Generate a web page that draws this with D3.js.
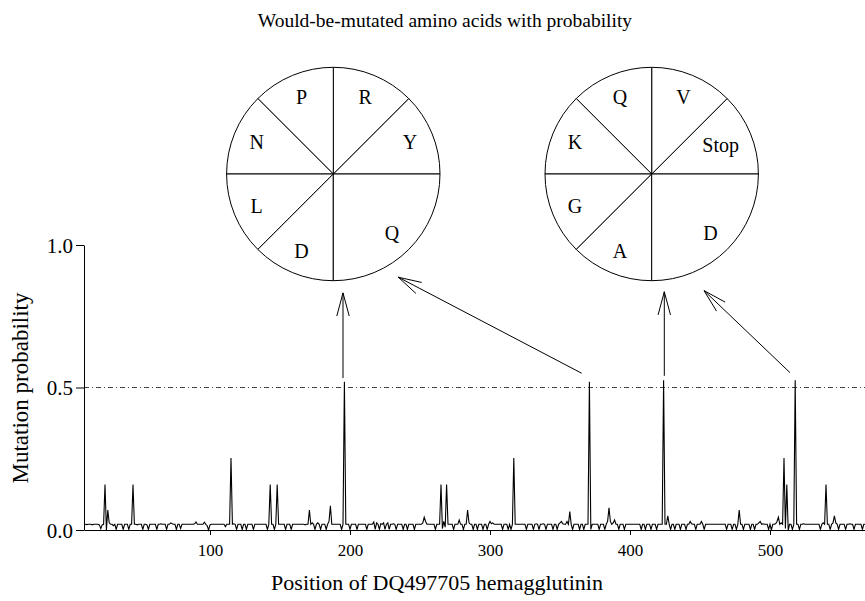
<!DOCTYPE html>
<html><head><meta charset="utf-8">
<script src="https://cdn.jsdelivr.net/npm/d3@7"></script>
<style>
body{margin:0;background:#fff}
svg{display:block}
text{font-family:"Liberation Serif","Times New Roman",serif;fill:#000}
</style>
</head><body>
<svg id="chart" width="865" height="601"></svg>
<script>
// ---------------- data ----------------
const firstPosition = 10;
const probability = [
/*10*/ .02,.02,.019,.02,.02,.02,.018,.02,.02,.02,
/*20*/ .02,.018,.005,.018,.02,.16,0,.07,.025,.02,
/*30*/ .02,.015,.02,.002,.02,.02,.02,.02,.002,.02,
/*40*/ .02,.02,.002,.02,.02,.16,.02,.02,.018,.02,
/*50*/ .02,.02,.002,.02,.02,.018,.002,.02,.02,.02,
/*60*/ .02,.02,.002,.02,.02,.022,.02,.02,.02,.002,
/*70*/ .02,.02,.025,.022,.02,.02,.002,.02,.02,.005,
/*80*/ .02,.02,.02,.02,.02,.02,.02,.02,.02,.022,
/*90*/ .028,.02,.02,.02,.02,.02,.027,.02,.015,0,
/*100*/ .018,.02,.02,.02,.02,.02,.02,.02,.02,.02,
/*110*/ .02,.012,.02,.02,.02,.253,.02,.022,.02,.002,
/*120*/ .02,.02,.02,.002,.02,.02,.002,.02,.02,.02,
/*130*/ .02,.002,.02,.02,.02,.02,.02,.02,.02,.02,
/*140*/ .02,.002,.02,.16,.02,.02,.002,.02,.16,.02,
/*150*/ .02,.02,.02,.02,.002,.02,.02,.02,.002,.02,
/*160*/ .02,.02,.02,.02,.02,.02,.02,.02,.018,.02,
/*170*/ .02,.07,.02,.025,.02,.002,.02,.025,.02,.002,
/*180*/ .02,.02,.02,.002,.02,.03,.085,.02,.02,.02,
/*190*/ .02,.02,.02,.02,.002,.02,.52,.02,.02,.02,
/*200*/ .002,.02,.02,.02,.02,.002,.02,.02,.02,.02,
/*210*/ .02,.02,.002,.02,.02,.02,.02,.028,.002,.025,
/*220*/ .02,.002,.022,.02,.025,.002,.02,.025,.002,.02,
/*230*/ .02,.022,.02,.002,.02,.02,.02,.02,.002,.02,
/*240*/ .02,.002,.02,.02,.02,.02,.002,.02,.02,.02,
/*250*/ .02,.02,.025,.045,.03,.02,.02,.02,.02,.02,
/*260*/ .02,.002,.02,.02,.02,.16,.005,.03,.01,.16,
/*270*/ .02,.02,.02,.02,.002,.02,.02,.02,.035,.02,
/*280*/ .02,.002,.02,.02,.07,.025,.02,.02,.002,.02,
/*290*/ .02,.002,.02,.02,.02,.002,.02,.02,.002,.02,
/*300*/ .03,.022,.025,.02,.02,.02,.02,.02,.02,.002,
/*310*/ .02,.02,.02,.002,.02,.002,.02,.253,.02,.02,
/*320*/ .02,.02,.02,.02,.02,.02,.002,.02,.02,.02,
/*330*/ .02,.002,.02,.022,.02,.002,.02,.02,.022,.02,
/*340*/ .002,.02,.02,.02,.02,.002,.02,.02,.002,.02,
/*350*/ .025,.03,.022,.02,.02,.03,.02,.065,.02,.002,
/*360*/ .02,.02,.02,.02,.002,.02,.02,.002,.02,.02,
/*370*/ .02,.52,.002,.02,.02,.02,.02,.02,.002,.02,
/*380*/ .02,.02,.002,.02,.03,.078,.03,.02,.025,.035,
/*390*/ .02,.02,.002,.02,.02,.02,.002,.02,.02,.02,
/*400*/ .02,.02,.02,.02,.02,.02,.02,.02,.002,.02,
/*410*/ .02,.002,.02,.02,.02,.002,.02,.02,.02,.002,
/*420*/ .02,.02,.02,.02,.525,.02,.02,.05,.02,.002,
/*430*/ .02,.02,.002,.02,.02,.02,.002,.02,.02,.02,
/*440*/ .002,.02,.02,.03,.022,.02,.02,.002,.02,.02,
/*450*/ .02,.03,.02,.002,.02,.02,.02,.02,.02,.02,
/*460*/ .02,.02,.02,.02,.02,.02,.02,.02,.02,.002,
/*470*/ .02,.02,.02,.002,.02,.02,.002,.02,.07,.02,
/*480*/ .02,.002,.02,.02,.02,.02,.002,.02,.02,.002,
/*490*/ .02,.02,.025,.03,.02,.022,.02,.02,.02,.002,
/*500*/ .02,0,.02,.02,.022,.03,.045,.02,.025,.02,
/*510*/ .253,.005,.16,0,.02,.02,.002,.02,.525,.02,
/*520*/ .02,.002,.02,.02,.022,.02,.02,.02,.02,.02,
/*530*/ .02,.02,.02,.02,.02,.02,.002,.02,.025,.02,
/*540*/ .16,.02,.02,.002,.02,.025,.05,.025,.02,.002,
/*550*/ .02,.02,.02,.02,.002,.02,.02,.022,.02,.02,
/*560*/ .002,.02,.02,.02,.02,.02,.002,.02,.02
];
const xTicks = [100, 200, 300, 400, 500];
const yTicks = [0, 0.5, 1];
const threshold = 0.5;
const pie1Labels = ["Y", "R", "P", "N", "L", "D", "Q"];
const pie1Values = [1, 1, 1, 1, 1, 1, 2];
const pie2Labels = ["Stop", "V", "Q", "K", "G", "A", "D"];
const pie2Values = [1, 1, 1, 1, 1, 1, 2];
// arrows (position, probability): from peak to pie
const arrowFrom = [[195, 0.533], [365.5, 0.55], [424.5, 0.541], [514.3, 0.552]];
const arrowTo   = [[195, 0.832], [234.5, 0.887], [424.5, 0.836], [452.9, 0.84]];

const titleText = "Would-be-mutated amino acids with probability";
const xLabel = "Position of DQ497705 hemagglutinin";
const yLabel = "Mutation probability";

// ---------------- layout ----------------
const svg = d3.select("#chart");
const W = 865, H = 601;
const plot = {left: 84, right: 865.2, top: 245, bottom: 530};

const series = probability.map((p, i) => ({pos: firstPosition + i, p}));
const x = d3.scaleLinear().domain([firstPosition, firstPosition + probability.length - 1]).range([plot.left, plot.right]);
const y = d3.scaleLinear().domain([0, 1]).range([plot.bottom, plot.top]);

// threshold line
svg.append("line")
  .attr("x1", plot.left).attr("x2", W)
  .attr("y1", y(threshold)).attr("y2", y(threshold))
  .attr("stroke", "#444").attr("stroke-width", 1)
  .attr("stroke-dasharray", "5,3,1,3");

// data line
svg.append("path")
  .datum(series)
  .attr("fill", "none").attr("stroke", "#000").attr("stroke-width", 1.1)
  .attr("stroke-linejoin", "miter")
  .attr("d", d3.line().x(d => x(d.pos)).y(d => y(d.p)));

// axes
const xAxis = svg.append("g")
  .attr("transform", `translate(0,${plot.bottom})`)
  .call(d3.axisBottom(x).tickValues(xTicks).tickSize(5).tickSizeOuter(0).tickPadding(9));
const yAxis = svg.append("g")
  .attr("transform", `translate(${plot.left},0)`)
  .call(d3.axisLeft(y).tickValues(yTicks).tickFormat(d3.format(".1f")).tickSize(8).tickSizeOuter(0).tickPadding(3));
[xAxis, yAxis].forEach(g => {
  g.selectAll("path,line").attr("stroke", "#000").attr("stroke-width", 1);
  g.selectAll("text").attr("fill", "#000").style("font-family", '"Liberation Serif",serif');
});
xAxis.selectAll("text").style("font-size", "17px");
yAxis.selectAll("text").style("font-size", "21px").attr("dy", "0.35em");

// titles
svg.append("text").attr("x", 445).attr("y", 27).attr("text-anchor", "middle")
  .style("font-size", "19.5px").text(titleText);
svg.append("text").attr("x", 437).attr("y", 590).attr("text-anchor", "middle")
  .style("font-size", "22px").text(xLabel);
svg.append("text").attr("transform", "translate(28,388) rotate(-90)").attr("text-anchor", "middle")
  .style("font-size", "23px").text(yLabel);

// pies
const R = 106.7;
const pieGen = d3.pie().sort(null).value(d => d.v)
  .startAngle(Math.PI / 2).endAngle(Math.PI / 2 - 2 * Math.PI);
const arc = d3.arc().innerRadius(0).outerRadius(R);
const labelArc = d3.arc().innerRadius(83).outerRadius(83);
function drawPie(cx, cy, labels, values) {
  const g = svg.append("g").attr("transform", `translate(${cx},${cy})`);
  const arcs = pieGen(labels.map((l, i) => ({l, v: values[i]})));
  g.selectAll("path").data(arcs).join("path")
    .attr("d", arc).attr("fill", "#fff").attr("stroke", "#000").attr("stroke-width", 1);
  g.selectAll("text").data(arcs).join("text")
    .attr("transform", d => {
      const c = labelArc.centroid(d);
      const k = d.data.l.length > 2 ? 0.9 : 1;
      return `translate(${c[0] * k},${c[1] * k})`;
    })
    .attr("text-anchor", "middle").attr("dy", "0.35em")
    .style("font-size", "20px").text(d => d.data.l);
}
drawPie(333.3, 174, pie1Labels, pie1Values);
drawPie(651.7, 174, pie2Labels, pie2Values);

// arrows
const headLen = 24, headAng = 15 * Math.PI / 180;
arrowFrom.forEach((f, i) => {
  const sx = x(f[0]), sy = y(f[1]);
  const tx = x(arrowTo[i][0]), ty = y(arrowTo[i][1]);
  const a = Math.atan2(sy - ty, sx - tx);
  const g = svg.append("g").attr("stroke", "#000").attr("stroke-width", 1).attr("fill", "none");
  g.append("line").attr("x1", sx).attr("y1", sy).attr("x2", tx).attr("y2", ty);
  g.append("path").attr("d",
    `M${tx + headLen * Math.cos(a + headAng)},${ty + headLen * Math.sin(a + headAng)}` +
    `L${tx},${ty}` +
    `L${tx + headLen * Math.cos(a - headAng)},${ty + headLen * Math.sin(a - headAng)}`);
});
</script>
</body></html>
